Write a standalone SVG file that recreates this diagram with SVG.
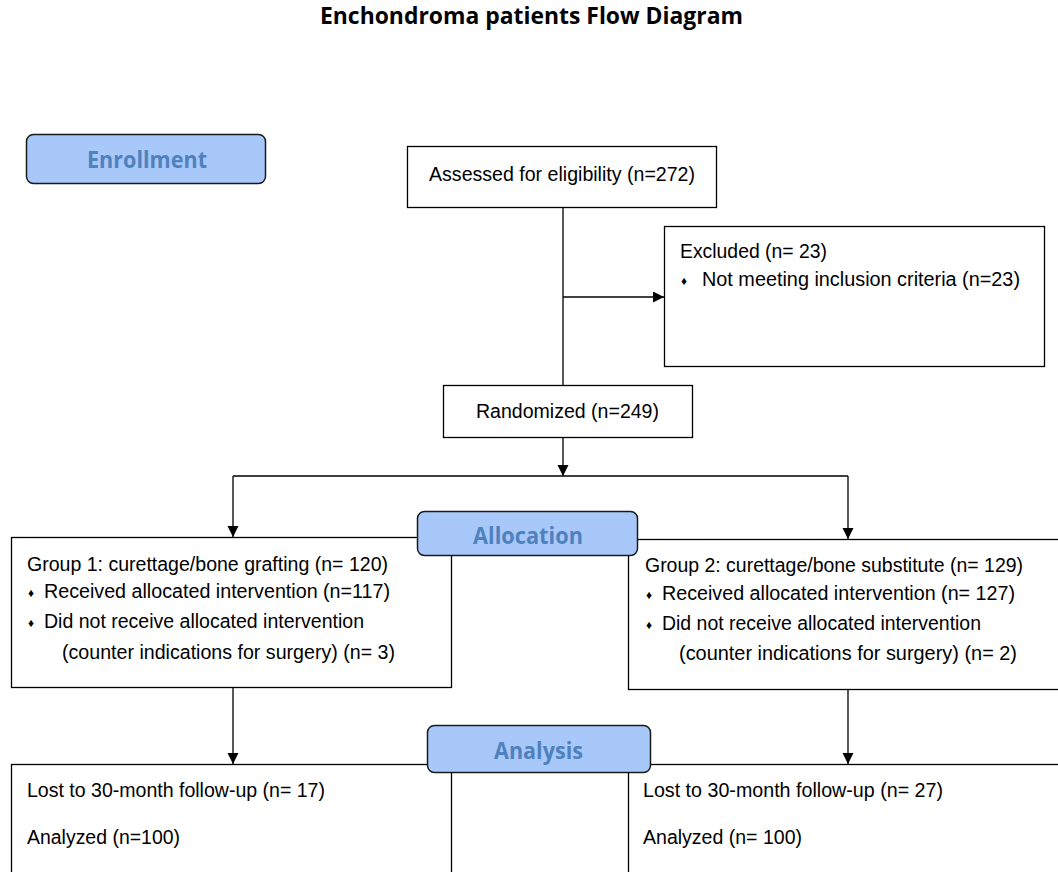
<svg xmlns="http://www.w3.org/2000/svg" width="1058" height="872" viewBox="0 0 1058 872">
<style>
.box{fill:#fff;stroke:#000;stroke-width:1.3}
.stage{fill:#a8c8fa;stroke:#1a1a1a;stroke-width:1.5}
.t{font-family:"Liberation Sans",Arial,sans-serif;font-size:19.5px;fill:#000}
.b{font-family:"Liberation Sans",Arial,sans-serif;font-size:12px;fill:#000}
.st{font-family:"Open Sans","DejaVu Sans",sans-serif;font-weight:bold;font-size:23px;fill:#4f81bd}
.title{font-family:"Open Sans","DejaVu Sans",sans-serif;font-weight:bold;font-size:23px;fill:#000}
.c{fill:none;stroke:#000;stroke-width:1.3}
</style>
<defs>
<marker id="ah" markerWidth="12" markerHeight="12" refX="11" refY="5.5" orient="auto" markerUnits="userSpaceOnUse">
<path d="M0,0 L11,5.5 L0,11 z" fill="#000"/>
</marker>
</defs>
<rect width="1058" height="872" fill="#fff"/>
<text class="title" x="320" y="24" textLength="423" lengthAdjust="spacingAndGlyphs">Enchondroma patients Flow Diagram</text>

<g id="connectors">
<path class="c" d="M563,208 V385"/>
<path class="c" d="M563,297 H664" marker-end="url(#ah)"/>
<path class="c" d="M563,438 V476" marker-end="url(#ah)"/>
<path class="c" d="M233,476 H848"/>
<path class="c" d="M233,476 V537" marker-end="url(#ah)"/>
<path class="c" d="M848,476 V539" marker-end="url(#ah)"/>
<path class="c" d="M233,688 V764" marker-end="url(#ah)"/>
<path class="c" d="M848,689 V764" marker-end="url(#ah)"/>
</g>

<g id="enrollment">
<rect class="stage" x="26.5" y="134.5" width="239" height="49" rx="7"/>
<text class="st" x="87" y="168" textLength="120" lengthAdjust="spacingAndGlyphs">Enrollment</text>
</g>

<g id="assessed">
<rect class="box" x="407.5" y="146.5" width="309" height="61"/>
<text class="t" x="429" y="181" textLength="266" lengthAdjust="spacingAndGlyphs">Assessed for eligibility (n=272)</text>
</g>

<g id="excluded">
<rect class="box" x="664.5" y="226.5" width="380" height="140"/>
<text class="t" x="680" y="258" textLength="147" lengthAdjust="spacingAndGlyphs">Excluded (n= 23)</text>
<text class="b" x="681" y="285">♦</text>
<text class="t" x="702" y="286" textLength="318" lengthAdjust="spacingAndGlyphs">Not meeting inclusion criteria (n=23)</text>
</g>

<g id="randomized">
<rect class="box" x="443.5" y="385.5" width="249" height="52"/>
<text class="t" x="476" y="418" textLength="183" lengthAdjust="spacingAndGlyphs">Randomized (n=249)</text>
</g>

<g id="group1">
<rect class="box" x="11.5" y="537.5" width="440" height="150"/>
<text class="t" x="27" y="571" textLength="361" lengthAdjust="spacingAndGlyphs">Group 1: curettage/bone grafting (n= 120)</text>
<text class="b" x="28" y="597">♦</text>
<text class="t" x="44" y="598" textLength="346" lengthAdjust="spacingAndGlyphs">Received allocated intervention (n=117)</text>
<text class="b" x="28" y="627">♦</text>
<text class="t" x="44" y="628" textLength="320" lengthAdjust="spacingAndGlyphs">Did not receive allocated intervention</text>
<text class="t" x="62" y="659" textLength="333" lengthAdjust="spacingAndGlyphs">(counter indications for surgery) (n= 3)</text>
</g>

<g id="group2">
<rect class="box" x="628.5" y="539.5" width="440" height="150"/>
<text class="t" x="645" y="572" textLength="378" lengthAdjust="spacingAndGlyphs">Group 2: curettage/bone substitute (n= 129)</text>
<text class="b" x="646" y="599">♦</text>
<text class="t" x="662" y="600" textLength="353" lengthAdjust="spacingAndGlyphs">Received allocated intervention (n= 127)</text>
<text class="b" x="646" y="629">♦</text>
<text class="t" x="662" y="630" textLength="319" lengthAdjust="spacingAndGlyphs">Did not receive allocated intervention</text>
<text class="t" x="679" y="660" textLength="338" lengthAdjust="spacingAndGlyphs">(counter indications for surgery) (n= 2)</text>
</g>

<g id="allocation">
<rect class="stage" x="417.5" y="511.5" width="220" height="44" rx="7"/>
<text class="st" x="473" y="544" textLength="110" lengthAdjust="spacingAndGlyphs">Allocation</text>
</g>

<g id="analysis1">
<rect class="box" x="11.5" y="764.5" width="440" height="120"/>
<text class="t" x="27" y="797" textLength="298" lengthAdjust="spacingAndGlyphs">Lost to 30-month follow-up (n= 17)</text>
<text class="t" x="27" y="844" textLength="153" lengthAdjust="spacingAndGlyphs">Analyzed (n=100)</text>
</g>

<g id="analysis2">
<rect class="box" x="628.5" y="764.5" width="440" height="120"/>
<text class="t" x="643" y="797" textLength="300" lengthAdjust="spacingAndGlyphs">Lost to 30-month follow-up (n= 27)</text>
<text class="t" x="643" y="844" textLength="159" lengthAdjust="spacingAndGlyphs">Analyzed (n= 100)</text>
</g>

<g id="analysis">
<rect class="stage" x="427.5" y="725.5" width="223" height="47" rx="7"/>
<text class="st" x="494" y="759" textLength="89" lengthAdjust="spacingAndGlyphs">Analysis</text>
</g>
</svg>
